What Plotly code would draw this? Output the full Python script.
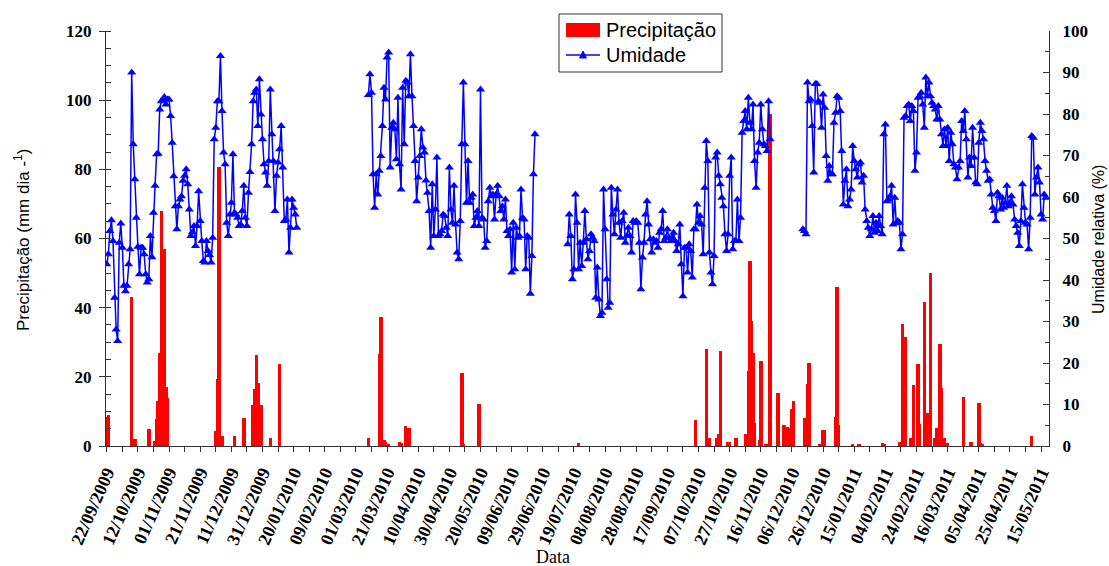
import plotly.graph_objects as go
import pandas as pd

# ---------------- data ----------------
precip_dates = [
    "2009-09-22", "2009-09-23", "2009-10-08", "2009-10-10", "2009-10-19", "2009-10-23",
    "2009-10-24", "2009-10-25", "2009-10-26", "2009-10-27", "2009-10-28", "2009-10-29",
    "2009-10-30", "2009-10-31", "2009-12-01", "2009-12-02", "2009-12-03", "2009-12-05",
    "2009-12-13", "2009-12-19", "2009-12-25", "2009-12-26", "2009-12-27", "2009-12-28",
    "2009-12-30", "2010-01-05", "2010-01-11", "2010-03-09", "2010-03-16", "2010-03-17",
    "2010-03-19", "2010-03-20", "2010-03-22", "2010-03-29", "2010-03-30", "2010-04-02",
    "2010-04-04", "2010-05-08", "2010-05-09", "2010-05-19", "2010-07-22", "2010-10-05",
    "2010-10-12", "2010-10-14", "2010-10-19", "2010-10-20", "2010-10-21", "2010-10-26",
    "2010-10-27", "2010-10-31", "2010-11-06", "2010-11-08", "2010-11-09", "2010-11-10",
    "2010-11-11", "2010-11-12", "2010-11-15", "2010-11-16", "2010-11-19", "2010-11-20",
    "2010-11-22", "2010-11-27", "2010-12-01", "2010-12-03", "2010-12-04", "2010-12-06",
    "2010-12-07", "2010-12-14", "2010-12-16", "2010-12-17", "2010-12-24", "2010-12-26",
    "2010-12-27", "2011-01-03", "2011-01-04", "2011-01-05", "2011-01-14", "2011-01-18",
    "2011-02-02", "2011-02-03", "2011-02-13", "2011-02-15", "2011-02-17", "2011-02-20",
    "2011-02-22", "2011-02-25", "2011-02-26", "2011-03-01", "2011-03-03", "2011-03-05",
    "2011-03-08", "2011-03-09", "2011-03-11", "2011-03-12", "2011-03-14", "2011-03-16",
    "2011-03-26", "2011-03-31", "2011-04-05", "2011-04-06", "2011-04-07", "2011-05-09",
]
precip_values = [
    8.5, 9, 43, 2, 5, 1.5,
    7.7, 13, 27, 68, 3, 57,
    17, 14, 4.3, 19.3, 80.8, 2.9,
    2.9, 8.2, 12, 16.4, 26.3, 18.3,
    12, 2.4, 23.6, 2.4, 26.5, 37.3,
    1.6, 1.3, 0.5, 1.3, 1, 5.8,
    5.3, 21.2, 0.7, 12.2, 1, 7.4,
    28, 2.4, 2.4, 3.6, 27.5, 1.3,
    1.3, 2.4, 3.6, 21.7, 53.5, 36.1,
    27, 6.7, 1.6, 24.6, 0.7, 0.7,
    96.1, 15.4, 6.1, 5.5, 5.3, 10.6,
    13, 8.2, 17.8, 23.9, 0.7, 4.5,
    4.5, 8.4, 46.1, 6.1, 0.5, 0.5,
    1, 0.7, 1.3, 35.2, 31.5, 2.4,
    17.5, 23.6, 6.3, 41.6, 9.6, 50.1,
    2.4, 5.3, 29.6, 16.7, 2.4, 1,
    14.2, 1.3, 12.5, 1, 0.7, 2.9,
]

# relative humidity (%), daily, four measurement periods
hum1_start = "2009-09-22"
hum1_values = [
    43.8, 46.2, 51.8, 54.4, 49.4, 35.7, 28.1, 25.3, 49, 53.6,
    47.8, 38.6, 37.3, 38.6, 43.8, 47.4, 90, 72.7, 64.3, 55,
    48, 41.4, 47.8, 47.8, 46.2, 41.4, 39.4, 40.2, 50.6, 45.5,
    56.2, 62.7, 70.3, 70.4, 81.1, 83.1, 83.5, 84.1, 82.3, 83.5,
    83.5, 79.5, 73.1, 65, 57.8, 52.2, 57.8, 59.4, 60.2, 63.9,
    65.1, 66.7, 63.1, 57, 50.6, 51.5, 53, 48.2, 53, 61.4,
    54.2, 49.4, 44.6, 44.2, 49.4, 47, 46, 44.2, 50.2, 73.9,
    76.7, 83.1, 83.1, 94,
    80.7, 70.7, 67.9, 53.8, 50.6, 55.8, 58.6, 70.3, 56.2, 55.8,
    55, 53, 53.4, 56.6, 62.7, 55, 53, 61, 66, 72.7,
    83.1, 85.1, 85.9, 77.1, 88.4, 79.9, 73.9, 67.9, 65.9, 62.7,
    68.7, 85.9, 75.1, 68.7, 56.6, 65.1, 68.3, 71.5, 77.1, 67.1,
    54.2, 54.6, 59.4, 46.6, 52.6, 59.4, 57.4, 55.8, 52.6,
]
hum2_start = "2010-03-09"
hum2_values = [
    84.6, 89.6, 85.1, 65.5, 57.4, 65.5, 60.6, 66.3, 69.9, 77.1,
    86.3, 83.5, 93.6, 94.8, 67.1, 76.7, 77.9, 76.3, 69.1, 83.9,
    67.9, 61.8, 86.3, 72.7, 88, 87.6, 84.3, 94.4, 84.3, 77.1,
    68.7, 59, 64.7, 69.9, 76.3, 71.9, 70.7, 64, 61, 56.6,
    47.8, 63.1, 50.6, 57, 69.5, 50.6, 51, 51.8, 55.8, 55.4,
    52.6, 50.6, 67.1, 57, 53.8, 62.7, 53.4, 46.6, 45, 54.2,
    72.7, 87.6,
    72.7, 58.6, 68.7, 58.6, 59.8, 60.6, 53, 55, 56.6, 53,
    85.9, 55, 54.6, 47.8, 49.4, 59, 62.2, 60.2, 60.6, 54.6,
    60.6, 62.7, 60.2, 56.6, 57.8, 54.6, 59.4, 51.8, 50.6, 52.2,
    41.8, 53.8, 42.6, 52.6, 50.2, 50.6, 61.8, 55, 54.6, 42.6,
    50.6, 50.2, 36.7, 45.8, 65.5, 75.1,
]
hum3_start = "2010-07-15"
hum3_values = [
    48.6, 55.8, 50.6, 40.2, 42.6, 60.6, 53.8, 42.6, 49, 43.4,
    49, 56.6, 49.8, 45, 47, 51,
    50.2, 49.4, 35.7, 43, 35.3, 31.3, 32.1, 61.8, 52.2, 40.2,
    33.3, 34.5, 62.2, 55.8, 51, 57, 61.8, 53.8, 50.2, 54.2,
    56.2, 49, 50.6, 52.6, 50.6, 46.6, 54.2, 53.8, 54.2, 53.8,
    49, 37.8, 45.4, 49, 55.8, 59, 53.4, 49.8, 46.6, 49.8,
    49, 49.4, 47.8, 51.4, 52.2, 56.6, 49.4, 50.2, 52.2, 50.2,
    49.4, 50.2, 51.4, 49.4, 47, 48.6, 53.4, 43.8, 36.1, 47.8,
    47.8, 41.8, 48.6, 47, 40.6, 52.2, 52.2, 58.2, 53.8, 55.4,
    53.4, 46.2, 62.2, 73.5, 68.7,
    46.6, 41.8, 39, 45.8, 69.5, 70.7, 65.1, 63.1, 59.8, 57.8,
    51, 47, 51, 65.1, 69.5, 47.4, 49.4, 49.4, 59.4, 49.4,
    55, 75.5, 78.3, 80.7, 76.3, 83.9, 77.9, 76.3, 82.3, 68.7,
    62.2, 70.7, 73.1, 82.3, 76.3, 72.7, 72.3, 71.1, 83.1, 73.9,
]
hum4_start = "2010-12-13"
hum4_values = [
    52.2, 51.8, 51, 87.6, 83.1, 83.5, 77.1, 65.9, 87.2, 87.2,
    83.1, 82.7, 76.7, 84.7, 81.5, 69.9, 63.9,
    67.5, 65.5, 65.5, 77.9, 80.3, 84.3, 83.9, 80.7, 71.1, 58.2,
    63.9, 66.7, 57.8, 59.4, 61.8, 72.3, 68.7, 66.7, 64.7, 67.9,
    68.3, 63.5, 65.1, 57, 54.2, 52.6, 50.6, 52.2, 55.4, 51.4,
    53.8, 51.8, 55.4, 53, 51, 75.1, 77.5, 59, 59.4, 60.2,
    62.7, 53.4, 59.8, 53.8, 54.2, 53.8, 47.4, 51, 79.1, 79.5,
    81.9, 82.3, 78.3, 81.9, 80.7, 66.3, 70.7, 83.9, 84.3, 85.1,
    82.3, 76.7, 88.8, 84.3, 87.6, 84.3, 82.7, 81.9, 81.1, 78.7,
    81.9, 78.7, 75.1, 72.3, 76.3, 72.3, 76.7, 68.7, 75.5,
    72.7, 67.9, 67.1, 64.3, 67.1, 68.7, 78.3, 75.9, 80.7, 73.9,
    64.7, 69.5, 67.5, 76.7, 69.5, 63.5, 63.1, 73.1, 77.9, 75.9,
    73.9, 68.7, 66.3, 63.9, 64.3, 60.6, 57.4, 56.6, 54.2, 61,
    60.2, 57, 59.8, 57.4, 58.6, 62.7, 57.8, 58.6, 60.2, 58.2,
    54.6, 53, 51.4, 48.2, 54.2, 63.1, 57.4, 53.8, 53.4, 47.4,
    55, 74.7, 74.3, 60.6, 64.7, 67.1, 63.5, 55.8, 54.6, 60.6,
    59.8,
]

tick_labels = [
    "22/09/2009", "12/10/2009", "01/11/2009", "21/11/2009", "11/12/2009", "31/12/2009",
    "20/01/2010", "09/02/2010", "01/03/2010", "21/03/2010", "10/04/2010", "30/04/2010",
    "20/05/2010", "09/06/2010", "29/06/2010", "19/07/2010", "08/08/2010", "28/08/2010",
    "17/09/2010", "07/10/2010", "27/10/2010", "16/11/2010", "06/12/2010", "26/12/2010",
    "15/01/2011", "04/02/2011", "24/02/2011", "16/03/2011", "05/04/2011", "25/04/2011",
    "15/05/2011",
]

# ---------------- build ----------------
hx, hy = [], []
for start, vals in [(hum1_start, hum1_values), (hum2_start, hum2_values),
                    (hum3_start, hum3_values), (hum4_start, hum4_values)]:
    d = pd.date_range(start, periods=len(vals), freq="D")
    hx += list(d.strftime("%Y-%m-%d"))
    hy += vals
    hx.append(None)
    hy.append(None)

tick_vals = [pd.to_datetime(t, format="%d/%m/%Y").strftime("%Y-%m-%d") for t in tick_labels]

DAY = 86400000
W, H = 1109, 566
L, R, T, B = 106, 60, 31, 120
PW, PH = W - L - R, H - T - B


def px(xp):
    """page pixel x -> paper fraction"""
    return (xp - L) / PW


def py(yp):
    """page pixel y -> paper fraction"""
    return (H - B - yp) / PH


serif_bold = dict(family="Liberation Serif", size=17, color="black", weight="bold")
RED, BLUE = "#FF0000", "#0000FF"

fig = go.Figure()
fig.add_trace(go.Bar(
    x=precip_dates, y=precip_values, name="Precipitação",
    marker=dict(color=RED, line=dict(width=0)), width=[2.2 * DAY] * len(precip_values),
    showlegend=False,
))
fig.add_trace(go.Scatter(
    x=hx, y=hy, yaxis="y2", name="Umidade", mode="lines+markers",
    connectgaps=False,
    line=dict(color=BLUE, width=1.5),
    marker=dict(symbol="triangle-up", size=8, color=BLUE),
    showlegend=False,
))

# manual legend (box, swatches, labels)
shapes = [
    dict(type="rect", xref="paper", yref="paper", x0=px(559), x1=px(722), y0=py(72), y1=py(14),
         line=dict(color="#333", width=1), fillcolor="white", layer="above"),
    dict(type="rect", xref="paper", yref="paper", x0=px(566), x1=px(600), y0=py(37), y1=py(23),
         line=dict(width=0), fillcolor=RED, layer="above"),
    dict(type="line", xref="paper", yref="paper", x0=px(566), x1=px(600), y0=py(55), y1=py(55),
         line=dict(color=BLUE, width=1.3), layer="above"),
    dict(type="path", xref="paper", yref="paper",
         path="M {} {} L {} {} L {} {} Z".format(px(579.5), py(58), px(586.5), py(58), px(583), py(51)),
         line=dict(color=BLUE, width=1), fillcolor=BLUE, layer="above"),
]
annotations = [
    dict(text="Precipitação", xref="paper", yref="paper", x=px(604), y=py(30),
         xanchor="left", yanchor="middle", showarrow=False,
         font=dict(family="Liberation Sans", size=20, color="black")),
    dict(text="Umidade", xref="paper", yref="paper", x=px(604), y=py(55),
         xanchor="left", yanchor="middle", showarrow=False,
         font=dict(family="Liberation Sans", size=20, color="black")),
    dict(text="Data", xref="paper", yref="paper", x=px(553), y=py(557),
         xanchor="center", yanchor="middle", showarrow=False,
         font=dict(family="Liberation Serif", size=18, color="black")),
    dict(text="Precipitação (mm dia -<sup>1</sup>)", xref="paper", yref="paper", x=px(22), y=py(240),
         xanchor="center", yanchor="middle", showarrow=False, textangle=-90,
         font=dict(family="Liberation Sans", size=17, color="black")),
    dict(text="Umidade relativa (%)", xref="paper", yref="paper", x=px(1098), y=py(240),
         xanchor="center", yanchor="middle", showarrow=False, textangle=-90,
         font=dict(family="Liberation Sans", size=16, color="black")),
]

fig.update_layout(
    width=W, height=H,
    margin=dict(l=L, r=R, t=T, b=B, autoexpand=False),
    paper_bgcolor="white", plot_bgcolor="white",
    showlegend=False,
    bargap=0,
    xaxis=dict(
        type="date", automargin=False,
        range=["2009-09-21 12:00", "2011-05-20 02:00"],
        tickmode="array", tickvals=tick_vals, ticktext=tick_labels,
        tickangle=-66, tickfont=dict(family="Liberation Serif", size=18, color="black", weight="bold"),
        ticklabelstandoff=3,
        ticks="outside", ticklen=5, tickcolor="#333",
        minor=dict(tickmode="linear", tick0="2009-10-02", dtick=20 * DAY, ticks="outside", ticklen=5, tickcolor="#333"),
        showline=True, linecolor="#333", linewidth=1,
        showgrid=False, zeroline=False,
    ),
    yaxis=dict(
        range=[0, 120], dtick=20, tick0=0, automargin=False,
        tickfont=serif_bold, ticklabelstandoff=4,
        ticks="outside", ticklen=6, tickcolor="#333",
        minor=dict(dtick=5, ticks="inside", ticklen=5, tickcolor="#333"),
        showline=True, linecolor="#333", linewidth=1,
        showgrid=False, zeroline=False,
    ),
    yaxis2=dict(
        overlaying="y", side="right", automargin=False,
        range=[0, 100], dtick=10, tick0=0,
        tickfont=serif_bold, ticklabelstandoff=9,
        ticks="inside", ticklen=6, tickcolor="#333",
        minor=dict(dtick=5, ticks="inside", ticklen=4, tickcolor="#333"),
        showline=True, linecolor="#333", linewidth=1,
        showgrid=False, zeroline=False,
    ),
    shapes=shapes,
    annotations=annotations,
)

# the page's default body margin would shift the figure; remove it
fig.write_html(
    "out.html",
    config={"displayModeBar": False},
    post_script="document.body.style.margin='0px';document.body.style.overflow='hidden';",
)
